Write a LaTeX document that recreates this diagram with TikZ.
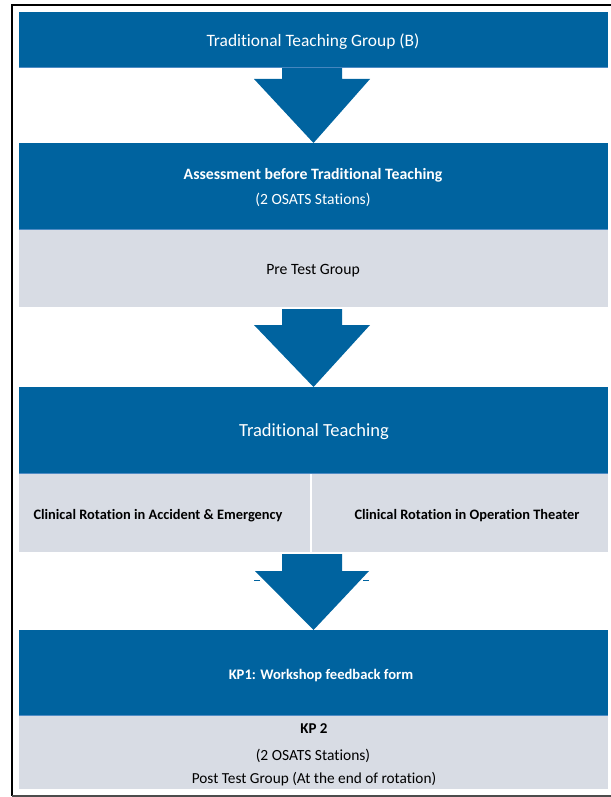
\documentclass[tikz,border=0pt]{standalone}
\usepackage{fontspec}
\setmainfont{Carlito}[Ligatures={NoCommon,TeX}]
\usetikzlibrary{calc}
\definecolor{barblue}{RGB}{0,99,159}
\definecolor{bargray}{RGB}{216,220,228}
\definecolor{edgeblue}{RGB}{80,140,196}
\tikzset{
  bluebar/.style={fill=barblue, text=white, minimum width=589bp, inner sep=0pt, outer sep=0pt, align=center},
  graybar/.style={fill=bargray, text=black, inner sep=0pt, outer sep=0pt, align=center},
  txt/.style={inner sep=0pt, outer sep=0pt, align=center},
  flowarrow/.style={fill=barblue}
}
\newcommand{\fsz}[1]{\fontsize{#1bp}{#1bp}\selectfont}
\begin{document}
\begin{tikzpicture}[x=1bp,y=-1bp]
\useasboundingbox (0,0) rectangle (611,797);
% frame
\draw[line width=2.5bp, black] (611,4.8) -- (12.2,4.8) -- (12.2,796);
\draw[line width=1.5bp, black!70] (12.2,796) -- (611,796);

% bars
\node[bluebar, minimum height=56bp] (b1) at (313.5,40) {};
\node[bluebar, minimum height=87bp] (b2) at (313.5,186.5) {};
\node[graybar, minimum width=589bp, minimum height=77bp] (g1) at (313.5,268.5) {};
\node[bluebar, minimum height=87bp] (b3) at (313.5,430.5) {};
\node[graybar, minimum width=291bp, minimum height=78bp] (g2l) at (164.5,513) {};
\node[graybar, minimum width=296bp, minimum height=78bp] (g2r) at (460,513) {};
\node[bluebar, minimum height=86bp] (b4) at (313.5,673) {};
\node[graybar, minimum width=589bp, minimum height=73bp] (g3) at (313.5,752.5) {};

% light edges under blue bars
\foreach \b in {b1,b2,b3,b4}{
  \draw[edgeblue, line width=1bp] ($(\b.south west)+(0,-0.5)$) -- ($(\b.south east)+(0,-0.5)$);
}

% texts
\node[txt, text=white] (t1) at (313,42) {\fsz{17.4}Traditional Teaching Group (B)};
\node[txt, text=white] (t2a) at (313,175) {\fsz{15.8}\bfseries Assessment before Traditional Teaching};
\node[txt, text=white] (t2b) at (313,200) {\fsz{15.6}(2 OSATS Stations)};
\node[txt] (t3) at (313,271) {\fsz{15.7}Pre Test Group};
\node[txt, text=white] (t4) at (314,432) {\fsz{18.5}Traditional Teaching};
\node[txt] (t5l) at (158,516) {\fsz{14.4}\bfseries Clinical Rotation in Accident \& Emergency};
\node[txt] (t5r) at (467,516) {\fsz{14.4}\bfseries Clinical Rotation in Operation Theater};
\node[txt, text=white] (t6) at (321,676) {\fsz{14.6}\bfseries KP1: Workshop feedback form};
\node[txt] (t7a) at (314,729) {\fsz{15}\bfseries KP 2};
\node[txt] (t7b) at (313,756) {\fsz{15.5}(2 OSATS Stations)};
\node[txt] (t7c) at (314,779) {\fsz{15.3}Post Test Group (At the end of rotation)};

% arrows
\fill[flowarrow] ($(b2.north)+(-31.5,-75)$) -- ($(b2.north)+(28.5,-75)$) -- ($(b2.north)+(28.5,-64)$)
  -- ($(b2.north)+(56.5,-64)$) -- (b2.north) -- ($(b2.north)+(-59.5,-64)$) -- ($(b2.north)+(-31.5,-64)$) -- cycle;
\fill[flowarrow] ($(b3.north)+(-31.5,-78)$) -- ($(b3.north)+(28.5,-78)$) -- ($(b3.north)+(28.5,-62)$)
  -- ($(b3.north)+(56.5,-62)$) -- (b3.north) -- ($(b3.north)+(-59.5,-62)$) -- ($(b3.north)+(-31.5,-62)$) -- cycle;
\fill[flowarrow] ($(b4.north)+(-31.5,-76)$) -- ($(b4.north)+(28.5,-76)$) -- ($(b4.north)+(28.5,-59)$)
  -- ($(b4.north)+(55.5,-59)$) -- (b4.north) -- ($(b4.north)+(-58.5,-59)$) -- ($(b4.north)+(-31.5,-59)$) -- cycle;
% small marks beside third arrow
\fill[flowarrow] (254,579.6) rectangle (260,581);
\fill[flowarrow] (363,579.6) rectangle (369,581);
\end{tikzpicture}
\end{document}
